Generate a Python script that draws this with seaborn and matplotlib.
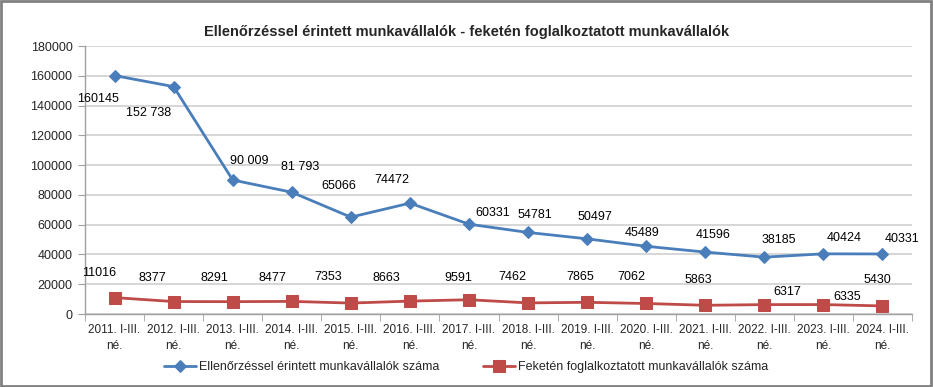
import pandas as pd
import matplotlib
matplotlib.use('Agg')
import matplotlib.pyplot as plt
import seaborn as sns
from matplotlib.patches import Rectangle

# Adatok
idoszakok = ['2011. I-III.\nné.', '2012. I-III.\nné.', '2013. I-III.\nné.', '2014. I-III.\nné.',
             '2015. I-III.\nné.', '2016. I-III.\nné.', '2017. I-III.\nné.', '2018. I-III.\nné.',
             '2019. I-III.\nné.', '2020. I-III.\nné.', '2021. I-III.\nné.', '2022. I-III.\nné.',
             '2023. I-III.\nné.', '2024. I-III.\nné.']
ellenorzott = [160145, 152738, 90009, 81793, 65066, 74472, 60331, 54781, 50497, 45489, 41596, 38185, 40424, 40331]
feketen = [11016, 8377, 8291, 8477, 7353, 8663, 9591, 7462, 7865, 7062, 5863, 6317, 6335, 5430]
cimkek_ell = ['160145', '152 738', '90 009', '81 793', '65066', '74472', '60331', '54781', '50497',
              '45489', '41596', '38185', '40424', '40331']
cimkek_fek = [str(v) for v in feketen]

nev_ell = 'Ellenőrzéssel érintett munkavállalók száma'
nev_fek = 'Feketén foglalkoztatott munkavállalók száma'

# címkék eltolása pixelben
eltolas_ell = [(-17, -23), (-25, -26), (17, 19), (8, 25), (-12, 31), (-18, 23), (24, 11),
               (7, 17), (8, 22), (-4, 13), (8, 17), (14, 17), (21, 16), (20, 15)]
eltolas_fek = [(-15, 25), (-21, 24), (-18, 24), (-19, 23), (-23, 26), (-24, 23), (-11, 22),
               (-16, 26), (-7, 25), (-15, 26), (-7, 25), (23, 13), (24, 8), (-5, 26)]

kek = '#4A7EBB'
piros = '#BE4B48'

df = pd.DataFrame({'x': range(len(idoszakok)), 'ell': ellenorzott, 'fek': feketen})

sns.set_style('white')
plt.rcParams['font.family'] = ['Liberation Sans', 'DejaVu Sans']

fig = plt.figure(figsize=(9.33, 3.87), dpi=100)
ax = fig.add_axes([0.0911, 0.1886, 0.8864, 0.6925])

sns.lineplot(data=df, x='x', y='ell', ax=ax, color=kek, marker='D', markersize=6,
             markeredgecolor=kek, linewidth=2, label=nev_ell)
sns.lineplot(data=df, x='x', y='fek', ax=ax, color=piros, marker='s', markersize=8,
             markeredgecolor=piros, linewidth=2, label=nev_fek)

for i, (v, t, o) in enumerate(zip(ellenorzott, cimkek_ell, eltolas_ell)):
    ax.annotate(t, (i, v), xytext=o, textcoords='offset pixels', ha='center', va='center',
                fontsize=9, color='#000000')
for i, (v, t, o) in enumerate(zip(feketen, cimkek_fek, eltolas_fek)):
    ax.annotate(t, (i, v), xytext=o, textcoords='offset pixels', ha='center', va='center',
                fontsize=9, color='#000000')

ax.set_xlim(-0.5, len(idoszakok) - 0.5)
ax.set_ylim(0, 180000)
ax.set_yticks(range(0, 180001, 20000))
ax.set_yticklabels([str(v) for v in range(0, 180001, 20000)], fontsize=9)
ax.set_xticks(range(len(idoszakok)))
ax.set_xticklabels(idoszakok, fontsize=8.5, linespacing=1.5)
ax.set_xticks([i - 0.5 for i in range(len(idoszakok) + 1)], minor=True)
ax.tick_params(axis='x', which='major', length=0, pad=7)
ax.tick_params(axis='x', which='minor', length=5, color='#A0A0A0', direction='out', bottom=True)
ax.tick_params(axis='y', length=5, color='#A0A0A0', direction='out', left=True, pad=4)
ax.yaxis.grid(True, color='#D0D0D0', linewidth=1.2)
ax.set_axisbelow(True)
ax.set_xlabel('')
ax.set_ylabel('')
for s in ['top', 'right']:
    ax.spines[s].set_visible(False)
for s in ['left', 'bottom']:
    ax.spines[s].set_color('#A0A0A0')
    ax.spines[s].set_linewidth(1)

ax.legend(loc='center', bbox_to_anchor=(0.5, 0.052), bbox_transform=fig.transFigure, ncol=2,
          frameon=False, fontsize=9, columnspacing=3.5, handlelength=2.5, handletextpad=0.3)

fig.suptitle('Ellenőrzéssel érintett munkavállalók - feketén foglalkoztatott munkavállalók',
             x=0.5, y=0.935, fontsize=10.5, fontweight='bold')

fig.patches.append(Rectangle((0.001, 0.002), 0.997, 0.995, transform=fig.transFigure,
                             fill=False, edgecolor='#808080', linewidth=2))

fig.savefig('out.png', dpi=100)
